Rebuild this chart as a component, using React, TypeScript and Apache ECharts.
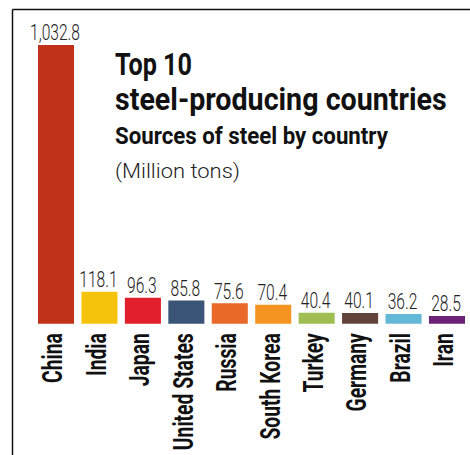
import React, { useEffect, useRef } from "react";
import * as echarts from "echarts";

const categories = ["China", "India", "Japan", "United States", "Russia", "South Korea", "Turkey", "Germany", "Brazil", "Iran"];
const values = [1032.8, 118.1, 96.3, 85.8, 75.6, 70.4, 40.4, 40.1, 36.2, 28.5];
const colors = ["#C1321B", "#F6C30C", "#E21F2C", "#3A5577", "#E9692A", "#F59421", "#9FBE52", "#62433A", "#63B7D7", "#6A2379"];
const titleLines = ["Top 10", "steel-producing countries"];
const subtitle = "Sources of steel by country";
const unitText = "(Million tons)";

const FAM = "Roboto";
const CENTRAL = 0.342; // central baseline offset (em) above alphabetic baseline for Roboto

let measureCtx: CanvasRenderingContext2D | null = null;
function measure(text: string, font: string): number {
  if (!measureCtx) measureCtx = document.createElement("canvas").getContext("2d");
  measureCtx!.font = font;
  return measureCtx!.measureText(text).width;
}

export default function App() {
  const ref = useRef<HTMLDivElement>(null);
  useEffect(() => {
    if (!ref.current) return;
    const chart = echarts.init(ref.current, null, { renderer: "svg" });
    const fmt = (v: number) => v.toLocaleString("en-US", { minimumFractionDigits: 1, maximumFractionDigits: 1 });

    const valFont = `300 22px ${FAM}`;
    const valScale = 50 / measure(fmt(values[0]), valFont);
    const catSize = 28;
    const catFont = `bold ${catSize}px ${FAM}`;
    const catScale = 117 / measure("United States", catFont);

    const titleText = (text: string, weight: string, size: number, left: number, baseline: number, width: number, fill: string) => {
      const font = `${weight} ${size}px ${FAM}`;
      return {
        type: "text",
        x: left,
        y: baseline - CENTRAL * size,
        scaleX: width / measure(text, font),
        style: { text, font, fill, align: "left", verticalAlign: "middle" },
      };
    };

    chart.setOption({
      animation: false,
      backgroundColor: "#ffffff",
      grid: { left: 34.3, right: 1.3, top: 45, bottom: 131.3, containLabel: false },
      xAxis: {
        type: "category",
        data: categories,
        axisLine: { show: false },
        axisTick: { show: false },
        axisLabel: { show: false },
      },
      yAxis: { type: "value", min: 0, max: 1032.8, show: false, splitLine: { show: false } },
      series: [
        {
          type: "bar",
          data: values.map((v, i) => ({ value: v, itemStyle: { color: colors[i] } })),
          barCategoryGap: "17%",
        },
        {
          type: "custom",
          z: 5,
          data: values.map((v, i) => [i, v]),
          renderItem: (params: any, api: any) => {
            const i = api.value(0);
            const v = api.value(1);
            const top = api.coord([i, v]);
            const base = api.coord([i, 0]);
            return {
              type: "group",
              children: [
                {
                  type: "text",
                  x: top[0] - 1,
                  y: top[1] - 4.5 - CENTRAL * 22,
                  scaleX: valScale,
                  style: { text: fmt(v), font: valFont, fill: "#222222", align: "center", verticalAlign: "middle" },
                },
                {
                  type: "text",
                  x: base[0] - 3,
                  y: base[1] + 9.5,
                  rotation: Math.PI / 2,
                  scaleX: catScale,
                  style: { text: categories[i], font: catFont, fill: "#111111", align: "right", verticalAlign: "middle" },
                },
              ],
            };
          },
        },
      ],
      graphic: [
        { type: "line", shape: { x1: 12.5, y1: 9.5, x2: 470, y2: 9.5 }, style: { stroke: "#111", lineWidth: 1.5 } },
        { type: "line", shape: { x1: 12.5, y1: 9.5, x2: 12.5, y2: 455 }, style: { stroke: "#111", lineWidth: 1.5 } },
        titleText(titleLines[0], "bold", 31, 115, 75, 77, "#111111"),
        titleText(titleLines[1], "bold", 31, 115, 110, 332, "#111111"),
        titleText(subtitle, "bold", 23.5, 115, 144.3, 273, "#111111"),
        titleText(unitText, "300", 21, 115, 178.3, 125, "#222222"),
      ],
    });
    return () => chart.dispose();
  }, []);
  return <div ref={ref} style={{ position: "fixed", left: 0, top: 0, width: 470, height: 455 }} />;
}
